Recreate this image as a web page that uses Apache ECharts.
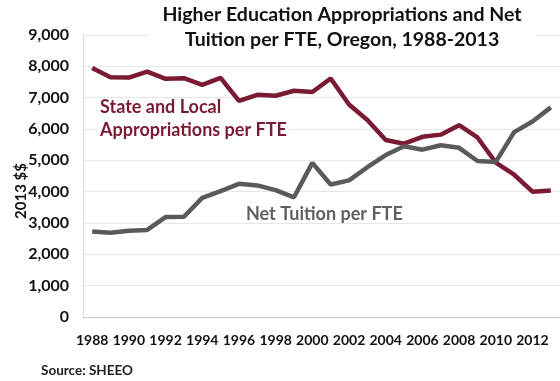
<!DOCTYPE html>
<html>
<head>
<meta charset="utf-8">
<script src="https://cdn.jsdelivr.net/npm/echarts@6/dist/echarts.min.js"></script>
<style>
  html, body { margin: 0; padding: 0; background: #fff; }
  #chart { width: 560px; height: 381px; }
</style>
</head>
<body>
<div id="chart"></div>
<script>
// Fiscal years 1988-2013
const years = ['1988','1989','1990','1991','1992','1993','1994','1995','1996','1997','1998','1999','2000',
               '2001','2002','2003','2004','2005','2006','2007','2008','2009','2010','2011','2012','2013'];

// State and local appropriations per FTE (2013 dollars)
const appropriations = [7950, 7650, 7640, 7830, 7600, 7620, 7410, 7630, 6900, 7090, 7060, 7220, 7180,
                        7610, 6780, 6290, 5650, 5530, 5750, 5820, 6120, 5730, 4930, 4540, 4000, 4040];

// Net tuition per FTE (2013 dollars)
const netTuition = [2730, 2690, 2750, 2780, 3190, 3200, 3800, 4020, 4250, 4200, 4050, 3820, 4920,
                    4230, 4360, 4780, 5170, 5450, 5340, 5480, 5400, 4980, 4950, 5900, 6240, 6690];

const yTicks = { min: 0, max: 9000, interval: 1000 };

const FONT = 'Lato';
const RED = '#7a1a33';
const GRAY = '#5a5a5a';

const chart = echarts.init(document.getElementById('chart'), null, { renderer: 'canvas' });

chart.setOption({
  animation: false,
  backgroundColor: '#fff',
  textStyle: { fontFamily: FONT },
  title: {
    text: 'Higher Education Appropriations and Net\nTuition per FTE, Oregon, 1988-2013',
    left: 328,
    top: 2,
    textAlign: 'center',
    backgroundColor: '#fff',
    padding: [0, 14, 2, 14],
    textStyle: { fontFamily: FONT, fontSize: 19.5, fontWeight: 'bold', color: '#111', lineHeight: 25 }
  },
  grid: { left: 83, right: -3, top: 35, bottom: 64, containLabel: false },
  xAxis: {
    type: 'category',
    data: years,
    boundaryGap: true,
    axisLine: { lineStyle: { color: '#c8c8c8', width: 1 } },
    axisTick: { show: false },
    axisLabel: { interval: 1, color: '#111', fontFamily: FONT, fontSize: 14, fontWeight: 'bold', margin: 16 },
    splitLine: { show: false }
  },
  yAxis: {
    type: 'value',
    min: yTicks.min, max: yTicks.max, interval: yTicks.interval,
    axisLine: { show: true, lineStyle: { color: '#d8d8d8', width: 1 } },
    axisTick: { show: false },
    axisLabel: {
      color: '#111', fontFamily: FONT, fontSize: 16, fontWeight: 'bold', margin: 14,
      formatter: v => v.toLocaleString('en-US')
    },
    splitLine: { lineStyle: { color: '#e6e6e6', width: 1 } }
  },
  series: [
    {
      name: 'State and Local Appropriations per FTE',
      type: 'line',
      data: appropriations,
      symbol: 'none',
      lineStyle: { color: RED, width: 4.5 },
      z: 3
    },
    {
      name: 'Net Tuition per FTE',
      type: 'line',
      data: netTuition,
      symbol: 'none',
      lineStyle: { color: GRAY, width: 4.5 },
      z: 4
    }
  ],
  graphic: {
    elements: [
      {
        type: 'text', x: 21, y: 191, rotation: Math.PI / 2, z: 10,
        style: { text: '2013 $$', fill: '#111', font: 'bold 15px ' + FONT,
                 align: 'center', verticalAlign: 'middle' }
      },
      {
        type: 'text', left: 100, top: 98, z: 10,
        style: { text: 'State and Local', fill: RED, font: 'bold 18px ' + FONT }
      },
      {
        type: 'text', left: 98, top: 121, z: 10,
        style: { text: 'Appropriations per FTE', fill: RED, font: 'bold 18px ' + FONT,
                 backgroundColor: '#fff', padding: [0, 2, 0, 2] }
      },
      {
        type: 'text', left: 246, top: 205, z: 10,
        style: { text: 'Net Tuition per FTE', fill: '#606060', font: 'bold 18px ' + FONT }
      },
      {
        type: 'text', left: 41, top: 364, z: 10,
        style: { text: 'Source: SHEEO', fill: '#222', font: 'bold 13.5px ' + FONT }
      }
    ]
  }
});
</script>
</body>
</html>
